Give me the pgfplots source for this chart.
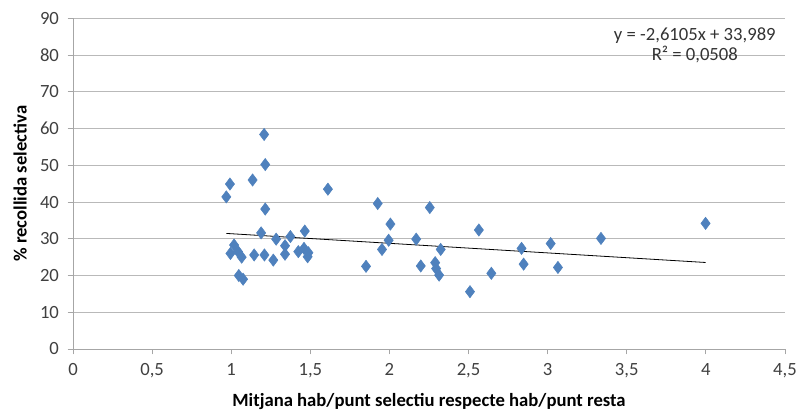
\documentclass[border=0pt]{standalone}
\usepackage{pgfplots}
\pgfplotsset{compat=1.18}
\usepackage{fontspec}
\setmainfont{Carlito}
\definecolor{mk}{HTML}{4F81BD}
\begin{document}
\begin{tikzpicture}
\begin{axis}[
  scale only axis,
  width=534pt, height=248pt,
  at={(0,0)}, anchor=south west,
  xmin=0, xmax=4.5, ymin=0, ymax=90,
  xtick={0,0.5,...,4.5},
  ytick={0,10,...,90},
  /pgf/number format/assume math mode=true,
  /pgf/number format/use comma,
  ymajorgrids,
  grid style={draw=gray!55, line width=0.6pt},
  axis x line*=bottom, axis y line*=left,
  axis line style={draw=gray!70, line width=0.6pt},
  every tick/.style={draw=gray!70, line width=0.6pt},
  tick align=outside, major tick length=4pt,
  ticklabel style={font=\fontsize{14}{16}\selectfont, text=black!75},
  xticklabel style={yshift=-3pt},
  yticklabel style={xshift=-3pt},
  xlabel={\textbf{Mitjana hab/punt selectiu respecte hab/punt resta}},
  ylabel={\textbf{\% recollida selectiva}},
  label style={font=\fontsize{14}{16}\selectfont},
  xlabel style={yshift=-5pt},
  ylabel style={yshift=3pt},
  clip=false,
]
\addplot[only marks, mark=diamond*, mark size=4.6pt, mark options={fill=mk, draw=mk}] coordinates {
(0.969,41.4) (0.992,44.9) (1.135,46.0) (1.208,58.4) (1.215,50.2) (1.215,38.1)
(1.611,43.5) (1.926,39.6) (2.255,38.5) (1.189,31.6) (1.284,29.9) (1.374,30.6)
(1.465,32.1) (1.340,28.1) (1.340,25.8) (1.018,28.3) (0.995,26.0) (1.043,26.5)
(1.066,25.0) (1.145,25.6) (1.210,25.6) (1.266,24.2) (1.424,26.5) (1.460,27.4)
(1.488,26.2) (1.483,25.1) (1.048,20.0) (1.075,19.0) (1.852,22.5) (1.953,27.1)
(1.995,29.6) (2.006,34.0) (2.169,29.9) (2.198,22.6) (2.324,27.1) (2.289,23.5)
(2.295,21.9) (2.314,20.1) (2.509,15.6) (2.565,32.4) (2.644,20.6) (2.835,27.4)
(2.848,23.1) (3.019,28.7) (3.065,22.2) (3.337,30.1) (3.998,34.2)
};
\addplot[black, line width=0.6pt, no marks] coordinates {(0.969,31.459) (3.998,23.552)};
\node[align=center, font=\fontsize{14}{15.5}\selectfont, text=black!80] at (axis cs:3.93,82.7) {y = -2,6105x + 33,989\\R² = 0,0508};
\end{axis}
\pgfresetboundingbox
\path[use as bounding box] (-54.75pt,-47.25pt) rectangle (543pt,261.75pt);
\end{tikzpicture}
\end{document}
